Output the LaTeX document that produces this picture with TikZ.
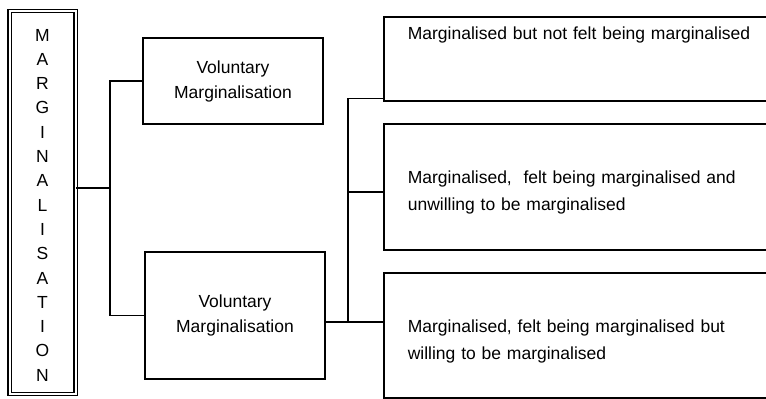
\documentclass[tikz,border=0pt]{standalone}
\usepackage{fontspec}
\setmainfont{Liberation Sans}
\usetikzlibrary{positioning}

\begin{document}
\begin{tikzpicture}[
		x = 1pt,
		y = -1pt,
		line width = 1.6pt,
		titlebox/.style = {
			draw,
			double,
			double distance = 2pt,
			line width = 1.4pt,
			rectangle,
			inner sep = 0,
			minimum width = 66,
			minimum height = 383,
			text height = 357.5,
			text depth = 0,
			align = center,
			font = \fontsize{17.5}{24.3}\selectfont
		},
		vmbox/.style = {
			draw,
			rectangle,
			inner sep = 0,
			minimum width = 180,
			align = center,
			font = \fontsize{17.5}{25}\selectfont
		},
		rbox/.style = {
			draw,
			rectangle,
			anchor = north west,
			inner xsep = 24,
			inner ysep = 0,
			text width = 380,
			align = left,
			font = \fontsize{17.5}{27}\selectfont
		}
	]
	\useasboundingbox (0, 0) rectangle (766, 399);
	\clip (0, 0) rectangle (766, 399);

	\node [titlebox] (title) at (42.5, 202.5) {M\\A\\R\\G\\I\\N\\A\\L\\I\\S\\A\\T\\I\\O\\N};

	\node [vmbox, minimum height = 86] (vm1) at (233, 81) {Voluntary\\Marginalisation};
	\node [vmbox, minimum height = 127] (vm2) at (235, 315.5) {Voluntary\\Marginalisation};

	\node [rbox, text height = 23, text depth = 61] (r1) at (383, 16)
		{Marginalised but not felt being marginalised};
	\node [rbox, text height = 60, text depth = 66] (r2) at (383, 123)
		{Marginalised,\ \ felt being marginalised and\\unwilling to be marginalised};
	\node [rbox, text height = 60, text depth = 65] (r3) at (383, 272)
		{Marginalised, felt being marginalised but\\willing to be marginalised};

	\coordinate (j1) at (110, 188);
	\coordinate (j2) at (348, 322);

	\draw (title.east |- j1) -- (j1);
	\draw (vm1.west) -| (j1) |- (vm2.west);

	\draw (vm2.east |- j2) -- (r3.west |- j2);
	\draw (j2) |- ([yshift = 3pt]r1.south west);
	\draw (j2 |- r2.west) ++(0, 5) -- ([yshift = -5pt]r2.west);
\end{tikzpicture}
\end{document}
